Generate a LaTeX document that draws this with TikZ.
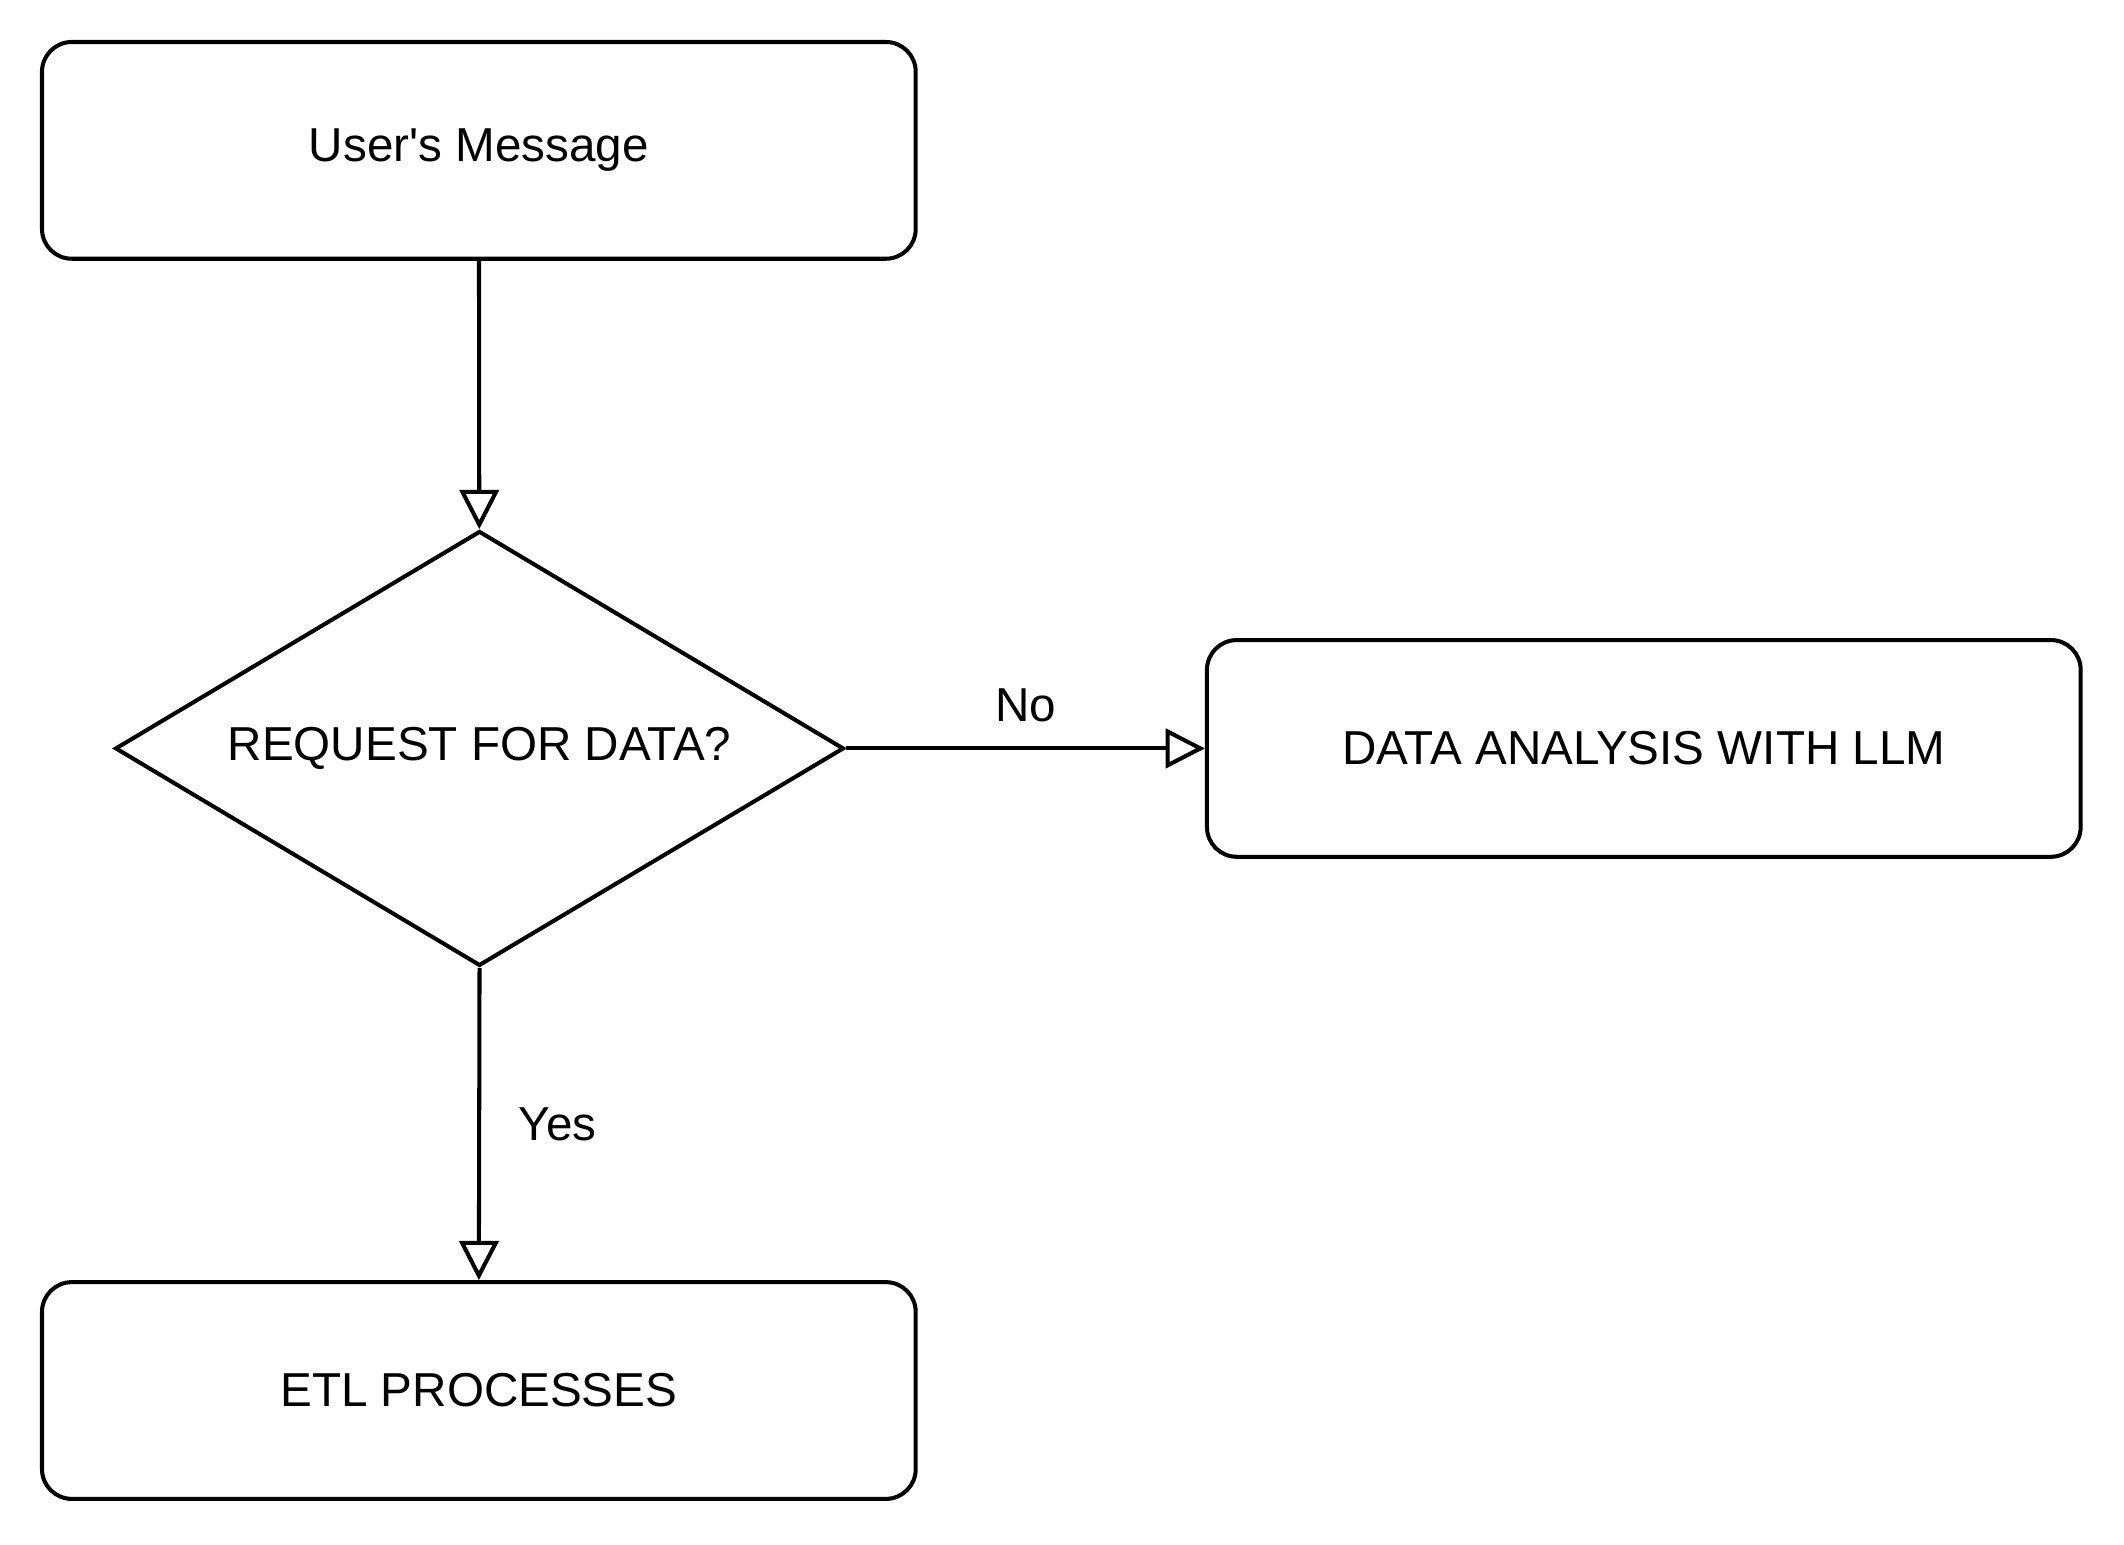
\documentclass[tikz,border=0pt]{standalone}
\usepackage{fontspec}
\setmainfont{Liberation Sans}
\usetikzlibrary{shapes.geometric,arrows.meta}

\begin{document}
\begin{tikzpicture}
  [stepbox/.style={draw, line width=0.85pt, rounded corners=2.2mm,
     minimum width=6.45cm, minimum height=1.6cm, inner sep=0,
     font=\fontsize{10}{12}\selectfont},
   decision/.style={draw, diamond, aspect=1.676, line width=0.85pt, inner sep=0,
     minimum width=5.38cm, minimum height=3.21cm,
     font=\fontsize{10}{12}\selectfont},
   flow/.style={line width=0.85pt,
     -{Triangle[open, length=2.9mm, width=2.9mm, line width=0.85pt]}},
   elabel/.style={font=\fontsize{10}{12}\selectfont}]

  \useasboundingbox (0, 0) rectangle (15.68, -11.40);

  % boxes
  \node[stepbox] (msg) at (3.535, -1.11) {User\textquotesingle s Message};
  \node[decision] (req) at (3.54, -5.525) {REQUEST FOR DATA?};
  \node[stepbox] (llm) at (12.135, -5.525) {DATA ANALYSIS WITH LLM};
  \node[stepbox] (etl) at (3.535, -10.265) {ETL PROCESSES};

  % connectors
  \draw[flow] (msg) -- (req);
  \draw[flow] (req.east) -- node[elabel, midway, above=0.6mm] {No} (llm.west);
  \draw[flow] (req.south) -- node[elabel, midway, right=1.6mm] {Yes} (etl.north);

\end{tikzpicture}
\end{document}
